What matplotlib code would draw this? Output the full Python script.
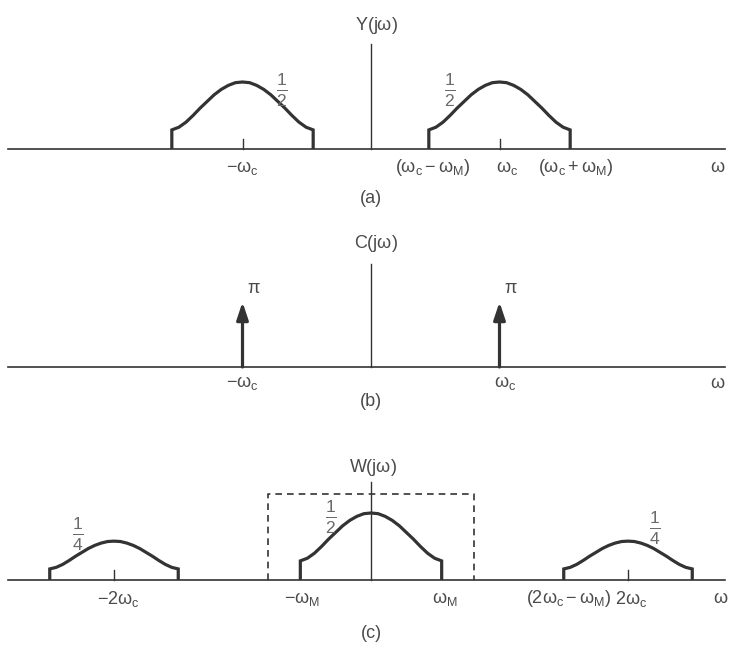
import numpy as np
import matplotlib.pyplot as plt

plt.rcParams['font.family'] = ['Liberation Sans', 'DejaVu Sans']
plt.rcParams['mathtext.fontset'] = 'custom'
plt.rcParams['mathtext.rm'] = 'Liberation Sans'
plt.rcParams['mathtext.it'] = 'Liberation Sans'
plt.rcParams['mathtext.bf'] = 'Liberation Sans:bold'

# frequencies in units of omega_c
lobe_u = [-1.0, -0.9, -0.8, -0.7, -0.6, -0.5, -0.4, -0.3, -0.2, -0.1, 0.0,
          0.1, 0.2, 0.3, 0.4, 0.5, 0.6, 0.7, 0.8, 0.9, 1.0]
lobe_shape = [0.285, 0.325, 0.40, 0.50, 0.61, 0.71, 0.81, 0.89, 0.95, 0.99, 1.0,
              0.99, 0.95, 0.89, 0.81, 0.71, 0.61, 0.50, 0.40, 0.325, 0.285]

# (a) Y(jw)
Y_centers = [-1.0, 1.0]
Y_halfwidth = [0.55, 0.55]
Y_peak = [0.5, 0.5]

# (b) C(jw): impulses of area pi
C_pos = [-1.0, 1.0]
C_height = [0.485, 0.485]

# (c) W(jw)
W_centers = [-2.0, 0.0, 2.0]
W_halfwidth = [0.5, 0.55, 0.5]
W_peak = [0.29, 0.5, 0.29]
H_cutoff = 0.8
H_height = 0.64

LINE = '#333333'
TEXT = '#4a4a4a'
FRAC = '#6a6a6a'
W_PX, H_PX = 731, 664
PX_X = 128.5   # pixels per omega_c
PX_Y = 134.0   # pixels per unit amplitude
X0, X1 = -371 / PX_X, (W_PX - 371) / PX_X
AX_L, AX_R = -2.825, 2.755

fig = plt.figure(figsize=(W_PX / 100, H_PX / 100), dpi=100)
fig.patch.set_facecolor('white')


def make_panel(top_px, bot_px, axis_px):
    ax = fig.add_axes([0, 1 - bot_px / H_PX, 1, (bot_px - top_px) / H_PX])
    ax.set_xlim(X0, X1)
    ax.set_ylim(-(bot_px - axis_px) / PX_Y, (axis_px - top_px) / PX_Y)
    ax.axis('off')
    ax.plot([AX_L, AX_R], [0, 0], color=LINE, lw=1.2)
    return ax


def draw_lobe(ax, c, hw, peak):
    x = [c - hw] + [c + hw * u for u in lobe_u] + [c + hw]
    y = [0] + [peak * s for s in lobe_shape] + [0]
    ax.plot(x, y, color=LINE, lw=2.3, solid_joinstyle='miter', solid_capstyle='butt')


def tick(ax, x):
    ax.plot([x, x], [0, 0.075], color=LINE, lw=1.0)


fs = 13
frac_fs = 18

# ---- (a)
ax = make_panel(0, 210, 149)
ax.plot([0, 0], [0, 0.78], color=LINE, lw=1.0)
for c, hw, pk in zip(Y_centers, Y_halfwidth, Y_peak):
    draw_lobe(ax, c, hw, pk)
    tick(ax, c)
ax.text(0.04, 0.925, r'Y(j$\omega$)', ha='center', va='center', fontsize=fs, color=TEXT)
ax.text(-0.69, 0.44, r'$\frac{1}{2}$', ha='center', va='center', fontsize=frac_fs, color=FRAC)
ax.text(0.615, 0.44, r'$\frac{1}{2}$', ha='center', va='center', fontsize=frac_fs, color=FRAC)
a_labels = [r'$-\omega_c$', r'$(\omega_c-\omega_M)$', r'$\omega_c$', r'$(\omega_c+\omega_M)$', r'$\omega$']
a_label_x = [-1.0, 0.48, 1.06, 1.59, 2.70]
for s, x in zip(a_labels, a_label_x):
    ax.text(x, -0.14, s, ha='center', va='center', fontsize=fs, color=TEXT)
ax.text(0, -0.366, '(a)', ha='center', va='center', fontsize=fs, color=TEXT)

# ---- (b)
ax = make_panel(210, 420, 367)
ax.plot([0, 0], [0, 0.765], color=LINE, lw=1.0)
for p, h in zip(C_pos, C_height):
    ax.annotate('', xy=(p, h), xytext=(p, 0),
                arrowprops=dict(arrowstyle='-|>,head_length=0.75,head_width=0.25',
                                lw=2.3, color=LINE, shrinkA=0, shrinkB=0,
                                mutation_scale=14))
    ax.text(p + 0.09, 0.585, r'$\pi$', ha='center', va='center', fontsize=fs, color=TEXT)
ax.text(0.04, 0.925, r'C(j$\omega$)', ha='center', va='center', fontsize=fs, color=TEXT)
b_labels = [r'$-\omega_c$', r'$\omega_c$', r'$\omega$']
b_label_x = [-1.0, 1.04, 2.70]
for s, x in zip(b_labels, b_label_x):
    ax.text(x, -0.12, s, ha='center', va='center', fontsize=fs, color=TEXT)
ax.text(0, -0.26, '(b)', ha='center', va='center', fontsize=fs, color=TEXT)

# ---- (c)
ax = make_panel(420, 664, 580)
ax.plot([0, 0], [0, 0.73], color=LINE, lw=1.0)
for c, hw, pk in zip(W_centers, W_halfwidth, W_peak):
    draw_lobe(ax, c, hw, pk)
    if c != 0:
        tick(ax, c)
ax.plot([-H_cutoff, -H_cutoff, H_cutoff, H_cutoff], [0, H_height, H_height, 0],
        color=LINE, lw=1.2, ls=(0, (4, 3)))
ax.text(0.015, 0.843, r'W(j$\omega$)', ha='center', va='center', fontsize=fs, color=TEXT)
ax.text(-0.31, 0.47, r'$\frac{1}{2}$', ha='center', va='center', fontsize=frac_fs, color=FRAC)
ax.text(-2.28, 0.336, r'$\frac{1}{4}$', ha='center', va='center', fontsize=frac_fs, color=FRAC)
ax.text(2.21, 0.388, r'$\frac{1}{4}$', ha='center', va='center', fontsize=frac_fs, color=FRAC)
c_labels = [r'$-2\omega_c$', r'$-\omega_M$', r'$\omega_M$', r'$(2\omega_c-\omega_M)$', r'$2\omega_c$', r'$\omega$']
c_label_x = [-1.97, -0.54, 0.576, 1.54, 2.02, 2.72]
for s, x in zip(c_labels, c_label_x):
    ax.text(x, -0.14, s, ha='center', va='center', fontsize=fs, color=TEXT)
ax.text(0, -0.40, '(c)', ha='center', va='center', fontsize=fs, color=TEXT)

fig.savefig('out.png', dpi=100, facecolor='white')
